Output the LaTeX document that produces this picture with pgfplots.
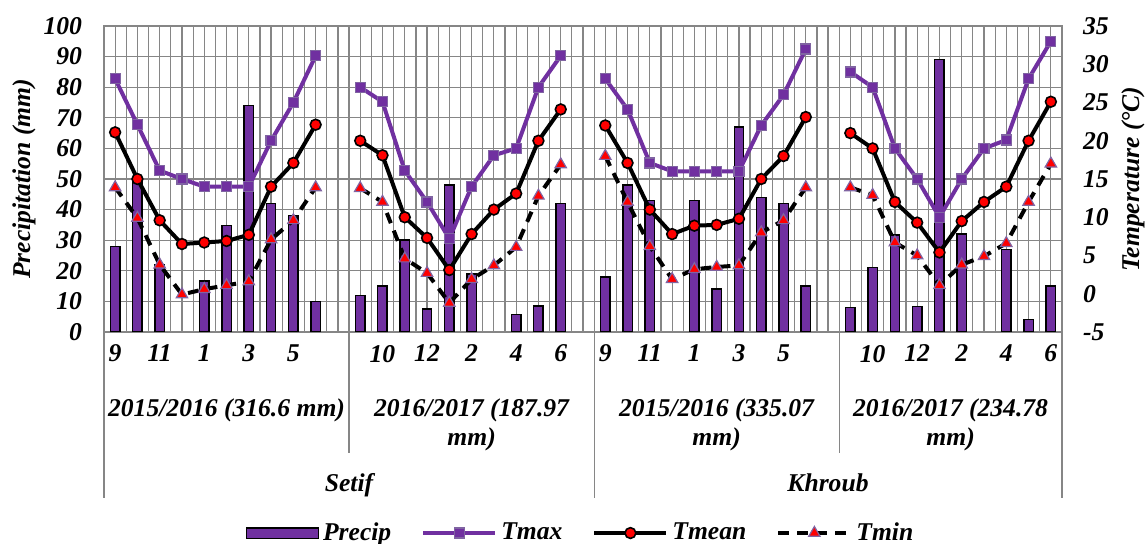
\documentclass[border=0pt]{standalone}
\usepackage{pgfplots}
\usepackage{pgfplotstable}
\pgfplotsset{compat=1.18}
\usepackage{fontspec}
\setmainfont{Liberation Serif}
\definecolor{pur}{RGB}{112,48,160}
\definecolor{lpur}{RGB}{128,100,162}
\definecolor{gridg}{RGB}{134,134,134}
\newcommand\cf{\fontsize{12.8bp}{15bp}\selectfont\bfseries\itshape}

\pgfplotstableread{
slot precip tmax tmean tmin
0 28 28.1 21.1 13.9
1 50 22.1 15.0 9.9
2 22 16.1 9.6 3.8
3 0 15.0 6.5 -0.1
4 16.7 14.0 6.7 0.6
5 34.8 14.0 6.9 1.1
6 74 14.0 7.7 1.6
7 42 20.0 14.0 7.1
8 38 25.0 17.1 9.6
9 10 31.1 22.1 13.9
10 nan nan nan nan
11 12 27.0 20.0 13.8
12 15 25.1 18.1 12.0
13 30 16.1 10.0 4.6
14 7.5 12.0 7.3 2.7
15 48 7.2 3.1 -1.2
16 19 14.0 7.8 1.9
17 0 18.1 11.0 3.7
18 5.8 19.0 13.1 6.1
19 8.5 27.0 20.0 12.8
20 42 31.1 24.1 16.9
21 nan nan nan nan
22 18 28.1 22.0 18.0
23 48 24.1 17.1 12.0
24 43 17.1 11.0 6.2
25 0 16.0 7.8 1.9
26 43 16.0 8.9 3.2
27 14 16.0 9.0 3.5
28 67 16.0 9.8 3.7
29 44 22.0 15.0 8.0
30 42 26.0 18.0 9.6
31 15 32.0 23.1 13.9
32 nan nan nan nan
33 8 29.0 21.0 13.9
34 21 27.0 19.0 12.9
35 31.7 19.0 12.0 6.7
36 8.4 15.0 9.3 5.0
37 89 10.0 5.4 1.1
38 32 15.0 9.5 3.8
39 0 19.0 12.0 4.9
40 27 20.1 14.0 6.6
41 4 28.1 20.0 12.0
42 15 33.0 25.1 17.0
}\data

\begin{document}
\begin{tikzpicture}
\begin{axis}[
  at={(0,0)}, anchor=south west,
  scale only axis, width=479bp, height=153bp,
  xmin=-0.5, xmax=42.5, ymin=0, ymax=100,
  ytick={0,10,...,100},
  xtick={0,2,4,6,8,12,14,16,18,20,22,24,26,28,30,34,36,38,40,42},
  xticklabels={9,11,1,3,5,10,12,2,4,6,9,11,1,3,5,10,12,2,4,6},
  minor xtick={-0.5,0,...,42.5},
  xminorgrids, ymajorgrids,
  grid style={gridg, line width=0.6bp},
  minor grid style={gridg, line width=0.6bp},
  axis line style={gridg, line width=0.6bp, -},
  major tick length=0pt, minor tick length=0pt,
  ticklabel style={font=\cf},
  /pgf/number format/assume math mode=true,
  yticklabel style={xshift=-7.5bp},
  xticklabel style={yshift=-3bp},
  ylabel={Precipitation (mm)},
  ylabel style={font=\cf, at={(axis description cs:-0.0835,0.5)}, anchor=center},
]
\addplot[ybar, bar width=4.7bp, bar shift=0pt, fill=pur, draw=black, line width=0.7bp,
  y filter/.expression={y==0 ? nan : y}] table[x=slot, y=precip] {\data};
\end{axis}

\begin{axis}[
  at={(0,0)}, anchor=south west,
  scale only axis, width=479bp, height=153bp,
  xmin=-0.5, xmax=42.5, ymin=-5, ymax=35,
  axis x line=none, axis y line*=right,
  ytick={-5,0,...,35},
  axis line style={gridg, line width=0.6bp, -},
  major tick length=0pt,
  ticklabel style={font=\cf},
  /pgf/number format/assume math mode=true,
  yticklabel style={xshift=7bp},
  ylabel={Temperature (°C)},
  ylabel style={font=\cf, at={(axis description cs:1.0741,0.5)}, anchor=center},
  unbounded coords=jump,
  legend image code/.code={\draw[mark repeat=2,mark phase=2,#1] plot coordinates {(0bp,0bp) (18bp,0bp) (36bp,0bp)};},
  legend style={at={(axis description cs:0.4984,-0.657)}, anchor=center,
    legend columns=4, draw=none, fill=none, font=\cf,
    nodes={inner sep=2bp},
    /tikz/every even column/.append style={column sep=13bp}},
]
\addlegendimage{legend image code/.code={\draw[fill=pur, draw=black, line width=0.7bp] (0bp,-2.6bp) rectangle (36bp,2.6bp);}}
\addlegendentry{Precip}
\addplot[color=pur, line width=2bp, mark=square*, mark size=2.5bp,
  mark options={fill=pur, draw=lpur, line width=0.6bp}] table[x=slot, y=tmax] {\data};
\addlegendentry{Tmax}
\addplot[color=black, line width=2bp, mark=*, mark size=2.7bp,
  mark options={fill=red, draw=black, line width=0.8bp}] table[x=slot, y=tmean] {\data};
\addlegendentry{Tmean}
\addplot[color=black, line width=2bp, dash pattern=on 5.5bp off 4bp, mark=triangle*, mark size=3.3bp,
  mark options={solid, fill=red, draw=lpur, line width=0.6bp}] table[x=slot, y=tmin] {\data};
\addlegendentry{Tmin}
\end{axis}

% multi-level category axis
\begin{scope}[gridg, line width=0.6bp]
\draw (0bp,0bp) -- (0bp,-83bp);
\draw (245.07bp,0bp) -- (245.07bp,-83bp);
\draw (479bp,0bp) -- (479bp,-83bp);
\draw (122.53bp,0bp) -- (122.53bp,-60.5bp);
\draw (367.6bp,0bp) -- (367.6bp,-60.5bp);
\end{scope}
\begin{scope}[every node/.style={font=\cf, anchor=base, inner sep=0pt}]
\node at (61.27bp,-42.2bp) {2015/2016 (316.6 mm)};
\node at (183.8bp,-42.2bp) {2016/2017 (187.97};
\node at (183.8bp,-56.7bp) {mm)};
\node at (306.3bp,-42.2bp) {2015/2016 (335.07};
\node at (306.3bp,-56.7bp) {mm)};
\node at (423.3bp,-42.2bp) {2016/2017 (234.78};
\node at (423.3bp,-56.7bp) {mm)};
\node at (122.53bp,-79.7bp) {Setif};
\node at (362.0bp,-79.7bp) {Khroub};
\end{scope}

\pgfresetboundingbox
\path[use as bounding box] (-52bp,-106bp) rectangle (521.5bp,166bp);
\end{tikzpicture}
\end{document}
